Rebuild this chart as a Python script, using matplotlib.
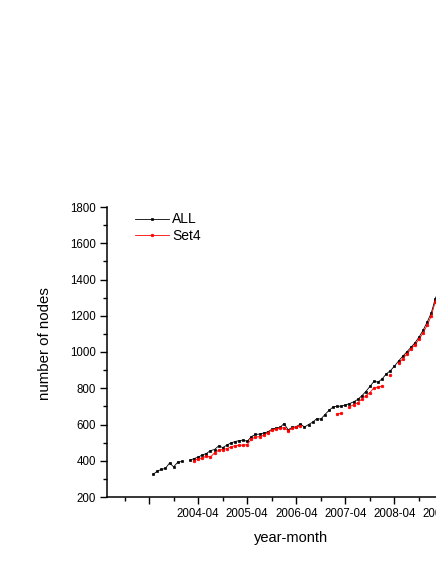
import numpy as np
import pandas as pd
import matplotlib
matplotlib.use("Agg")
import matplotlib.pyplot as plt

plt.rcParams['font.family'] = ['Liberation Sans', 'DejaVu Sans']

# monthly node counts, first value is 2003-05 (nan = no data that month)
first_month = '2003-05'
all_nodes = [325, 343, 352, 358, 388, 366, 392, 396, np.nan,
             403, 412, 420, 432, 440, 456, 462, 482, 473, 486, 498, 506,
             511, 514, 507, 533, 545, 547, 553, 559, 573, 580, 584, 605,
             571, 584, 588, 603, 586, 600, 613, 632, 630, 655, 678, 697,
             701, 701, 708, 715, 725, 738, 758, 782, 810, 838, 834, 852,
             879, 897, 922, 950, 976, 1000, 1025, 1050, 1082, 1120, 1165,
             1215, 1295, 1350]
set4_nodes = [np.nan] * 10 + [
             401, 410, 416, 425, 421, 443, 458, 462, 467, 476, 484, 486,
             486, 489, 520, 531, 533, 540, 555, 569, 575, 579, 583, 566,
             579, 584, 594] + [np.nan] * 8 + [
             659, 661, np.nan, 698, 709, 720, 740, 758, 776, 803, 806, 813,
             np.nan, 872, np.nan, 937, 962, 988, 1015, 1040, 1070, 1105,
             1148, 1198, 1278, 1335]

tick_months = ['2003-04', '2004-04', '2005-04', '2006-04', '2007-04', '2008-04', '2009-04']
tick_labels = ['', '2004-04', '2005-04', '2006-04', '2007-04', '2008-04', '2009-04']

# month offsets counted from 2003-04
base = pd.Period('2003-04', freq='M')
months = pd.period_range(first_month, periods=len(all_nodes), freq='M')
x = np.array([(p - base).n for p in months])
ticks = [(pd.Period(t, freq='M') - base).n for t in tick_months]

fig = plt.figure(figsize=(4.36, 5.64), dpi=100)
ax = fig.add_axes([107 / 436, 67 / 564, 368 / 436, 290 / 564])

ax.plot(x, all_nodes, color='black', lw=0.6, marker='s', ms=1.7, mew=0.5, label='ALL')
ax.plot(x, set4_nodes, color='red', lw=0.6, marker='o', ms=1.9, mew=0.5, label='Set4')

ax.set_xlim(-10.3, 79.7)
ax.set_ylim(200, 1800)
ax.set_xticks(ticks)
ax.set_xticklabels(tick_labels)
ax.set_xticks([t + 6 for t in ticks] + [ticks[0] - 6], minor=True)
ax.set_yticks(range(200, 1801, 200))
ax.set_yticks(range(300, 1800, 200), minor=True)

ax.spines['top'].set_visible(False)
ax.spines['right'].set_visible(False)
for s in ['left', 'bottom']:
    ax.spines[s].set_linewidth(1.1)
ax.tick_params(which='major', direction='out', length=5, width=1.0, labelsize=8.3, pad=3)
ax.tick_params(which='minor', direction='out', length=2.8, width=1.0)

ax.set_xlabel('year-month', fontsize=10.5, labelpad=8)
ax.set_ylabel('number of nodes', fontsize=10.8)
ax.yaxis.set_label_coords(-0.15, 0.53)

ax.legend(loc='upper left', bbox_to_anchor=(0.058, 1.005), frameon=False,
          borderpad=0, handlelength=2.4, handletextpad=0.25, labelspacing=0.2,
          fontsize=10)

fig.savefig('out.png', dpi=100)
